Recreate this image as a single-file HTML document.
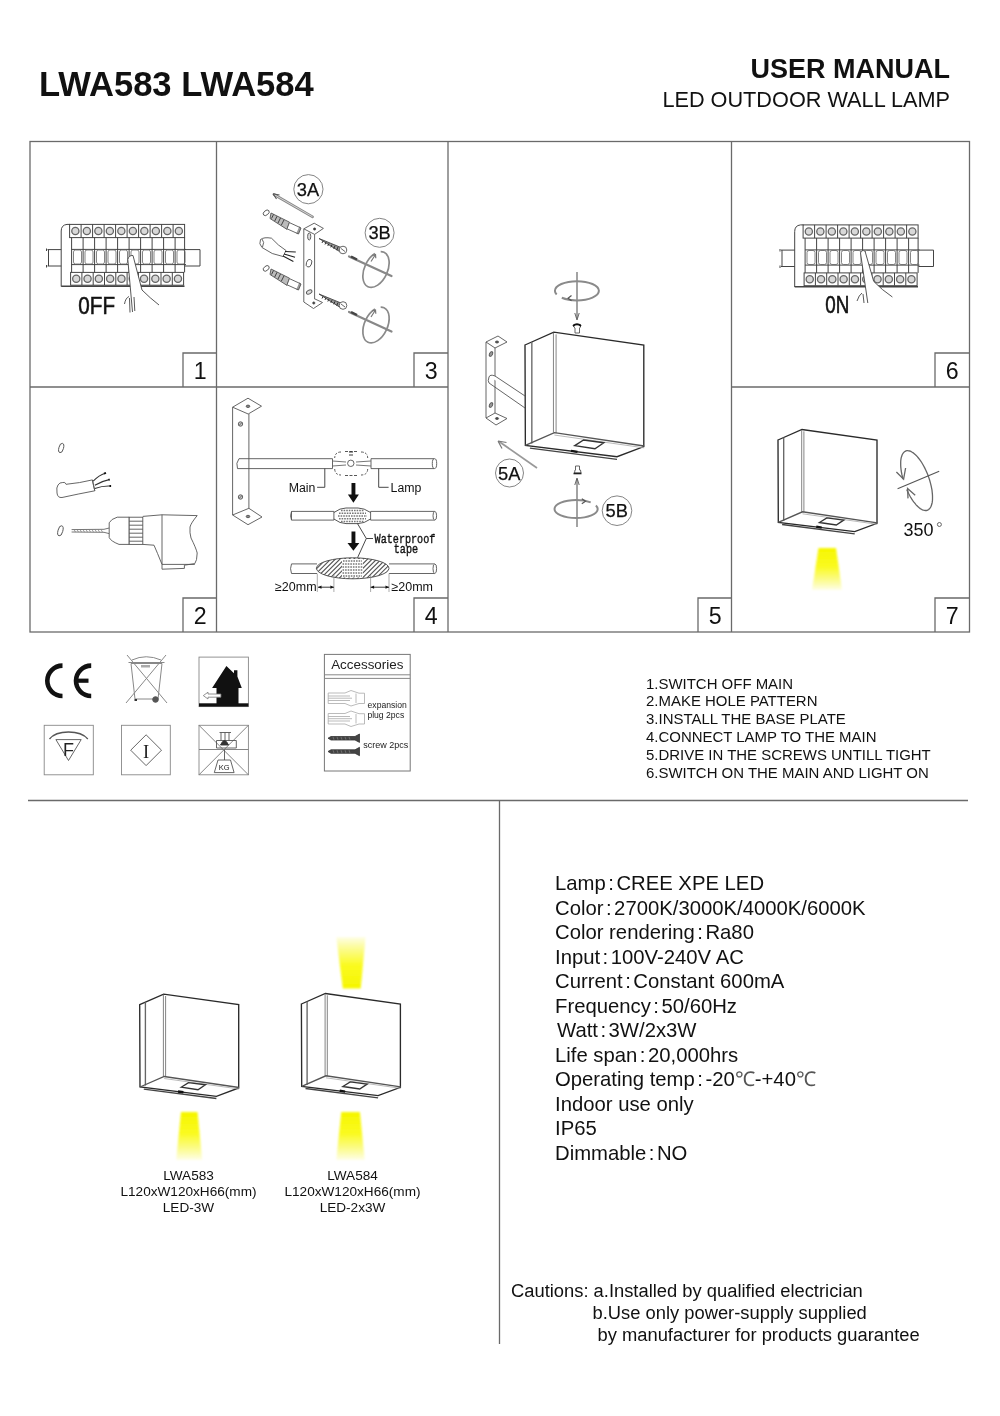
<!DOCTYPE html>
<html><head><meta charset="utf-8">
<style>
html,body{margin:0;padding:0;background:#fff;}
#wrap{position:absolute;left:0;top:0;width:1000px;height:1416px;will-change:transform;}
body{width:1000px;height:1416px;position:relative;overflow:hidden;font-family:"Liberation Sans",sans-serif;color:#111;}
.t{position:absolute;white-space:pre;line-height:1;}
svg{position:absolute;left:0;top:0;}
.num{width:34.5px;height:34px;text-align:center;font-size:23.2px;line-height:36px;}
#specs i{font-style:normal;margin:0 2.5px 0 2.5px;}
.dc{color:#555;}
.lbl{position:absolute;top:1168px;width:161px;text-align:center;font-size:13.6px;line-height:16px;white-space:pre;}
</style></head><body><div id="wrap">
<svg width="1000" height="1416" viewBox="0 0 1000 1416">
<g id="grid" stroke="#6a6a6a" stroke-width="1.3" fill="none">
  <rect x="30" y="141.5" width="939.5" height="490.5"/>
  <line x1="216.5" y1="141.5" x2="216.5" y2="632"/>
  <line x1="448" y1="141.5" x2="448" y2="632"/>
  <line x1="731.5" y1="141.5" x2="731.5" y2="632"/>
  <line x1="30" y1="387" x2="448" y2="387"/>
  <line x1="731.5" y1="387" x2="969.5" y2="387"/>
  <path d="M183,387V353H216.5 M414,387V353H448 M935,387V353H969.5 M183,632V598H216.5 M414,632V598H448 M698,632V598H731.5 M935,632V598H969.5"/>
  <line x1="28" y1="800.5" x2="968" y2="800.5"/>
  <line x1="499.5" y1="800.5" x2="499.5" y2="1344"/>
</g>

<g id="brk" fill="none" stroke="#444" stroke-width="1">
  <path d="M47.5,249.6H61.2 M47.5,266H61.2 M48.5,249.6V266 M46.5,248.5V251 M46.5,265V267.5"/>
  <path d="M185,249.6H200 M185,266H200 M200,249.6V266"/>
  <path d="M61.2,286.5V231Q61.2,225 67,224.4H70" />
  <path d="M61.2,286.3H184.5" stroke="#444" stroke-width="1.6"/>
  <rect x="69.6" y="224.4" width="115" height="13.2"/>
  <line x1="81.1" y1="224.4" x2="81.1" y2="237.6"/><line x1="92.6" y1="224.4" x2="92.6" y2="237.6"/><line x1="104.1" y1="224.4" x2="104.1" y2="237.6"/><line x1="115.6" y1="224.4" x2="115.6" y2="237.6"/><line x1="127.1" y1="224.4" x2="127.1" y2="237.6"/><line x1="138.6" y1="224.4" x2="138.6" y2="237.6"/><line x1="150.1" y1="224.4" x2="150.1" y2="237.6"/><line x1="161.6" y1="224.4" x2="161.6" y2="237.6"/><line x1="173.1" y1="224.4" x2="173.1" y2="237.6"/>
  <g fill="#d8d8d8" stroke="#666" stroke-width="1.3"><circle cx="75.35" cy="231" r="3.6"/><circle cx="86.85" cy="231" r="3.6"/><circle cx="98.35" cy="231" r="3.6"/><circle cx="109.85" cy="231" r="3.6"/><circle cx="121.35" cy="231" r="3.6"/><circle cx="132.85" cy="231" r="3.6"/><circle cx="144.35" cy="231" r="3.6"/><circle cx="155.85" cy="231" r="3.6"/><circle cx="167.35" cy="231" r="3.6"/><circle cx="178.85" cy="231" r="3.6"/></g>
  <rect x="70.6" y="272.4" width="113" height="12.8"/>
  <line x1="81.9" y1="272.4" x2="81.9" y2="285"/><line x1="93.2" y1="272.4" x2="93.2" y2="285"/><line x1="104.5" y1="272.4" x2="104.5" y2="285"/><line x1="115.8" y1="272.4" x2="115.8" y2="285"/><line x1="127.1" y1="272.4" x2="127.1" y2="285"/><line x1="138.4" y1="272.4" x2="138.4" y2="285"/><line x1="149.7" y1="272.4" x2="149.7" y2="285"/><line x1="161.0" y1="272.4" x2="161.0" y2="285"/><line x1="172.3" y1="272.4" x2="172.3" y2="285"/>
  <g fill="#d8d8d8" stroke="#666" stroke-width="1.3"><circle cx="76.25" cy="278.8" r="3.6"/><circle cx="87.55" cy="278.8" r="3.6"/><circle cx="98.85" cy="278.8" r="3.6"/><circle cx="110.15" cy="278.8" r="3.6"/><circle cx="121.45" cy="278.8" r="3.6"/><circle cx="132.75" cy="278.8" r="3.6"/><circle cx="144.05" cy="278.8" r="3.6"/><circle cx="155.35" cy="278.8" r="3.6"/><circle cx="166.65" cy="278.8" r="3.6"/><circle cx="177.95" cy="278.8" r="3.6"/></g>
  <line x1="71.6" y1="237.6" x2="71.6" y2="272.4"/><line x1="83.1" y1="237.6" x2="83.1" y2="272.4"/><line x1="94.6" y1="237.6" x2="94.6" y2="272.4"/><line x1="106.1" y1="237.6" x2="106.1" y2="272.4"/><line x1="117.6" y1="237.6" x2="117.6" y2="272.4"/><line x1="129.1" y1="237.6" x2="129.1" y2="272.4"/><line x1="140.6" y1="237.6" x2="140.6" y2="272.4"/><line x1="152.1" y1="237.6" x2="152.1" y2="272.4"/><line x1="163.6" y1="237.6" x2="163.6" y2="272.4"/><line x1="175.1" y1="237.6" x2="175.1" y2="272.4"/><line x1="184.6" y1="237.6" x2="184.6" y2="272.4"/>
  <path d="M71.6,249.4H186 M71.6,264.6H186"/>
  <g stroke="#666" stroke-width="0.8"><rect x="73.5" y="250" width="8" height="14" rx="2"/><rect x="85.0" y="250" width="8" height="14" rx="2"/><rect x="96.5" y="250" width="8" height="14" rx="2"/><rect x="108.0" y="250" width="8" height="14" rx="2"/><rect x="119.5" y="250" width="8" height="14" rx="2"/><rect x="131.0" y="250" width="8" height="14" rx="2"/><rect x="142.5" y="250" width="8" height="14" rx="2"/><rect x="154.0" y="250" width="8" height="14" rx="2"/><rect x="165.5" y="250" width="8" height="14" rx="2"/><rect x="177.0" y="250" width="8" height="14" rx="2"/></g>
</g>
<g stroke="#444" stroke-width="0.9">
  <path d="M127.8,259.5 Q129,255 133,255.5 L142,290 Q150,298 159,305 L160,314 L132.5,314 Z" fill="#fff" stroke="none"/>
  <path d="M127.8,259.5 L132.5,312 M127.8,259.5 Q129,255 133,255.5 L142,290 Q150,298 159,305" fill="none"/>
  <path d="M124.5,304 Q125.5,298 129,296.5 M129.5,298 L130,312.5 M134,297 L134.8,311" fill="none"/>
</g>
<text x="78.3" y="313.7" font-family="Liberation Sans" font-size="23.5" stroke="#111" stroke-width="0.55" transform="translate(78.3,0) scale(0.88,1) translate(-78.3,0)" fill="#111">0FF</text>

<use href="#brk" transform="translate(733.5,0.5)"/>
<g stroke="#444" stroke-width="0.9">
  <path d="M860.5,253 Q861.5,249.5 865,251 L873.7,281.4 Q882,290 892.4,297 L893,305 L867.8,305 Z" fill="#fff" stroke="none"/>
  <path d="M860.5,253 L867.8,303 M860.5,253 Q861.5,249.5 865,251 L873.7,281.4 Q882,290 892.4,297" fill="none"/>
  <path d="M857,301 Q859,295 862,293 M863,294 L864,303" fill="none"/>
</g>
<text x="825.3" y="313.2" font-family="Liberation Sans" font-size="23.5" stroke="#111" stroke-width="0.55" transform="translate(825.3,0) scale(0.8,1) translate(-825.3,0)" fill="#111">0N</text>


<g id="p3" fill="none" stroke="#555" stroke-width="0.9">
  <circle cx="308.4" cy="189.2" r="14.6" stroke="#777"/>
  <circle cx="379.6" cy="232.8" r="14.5" stroke="#777"/>
  <!-- drill bit / pin -->
  <path d="M274,194.5 L312.6,216.8" stroke="#888" stroke-width="2.6" stroke-linecap="round"/>
  <path d="M274,194.5 L312.6,216.8" stroke="#ddd" stroke-width="0.9"/>
  <path d="M273,193.8 L279.5,195 M273,193.8 L276.5,199" stroke="#555" stroke-width="1.1"/>
  <!-- holes -->
  <ellipse cx="266.2" cy="212.8" rx="3.4" ry="2.2" transform="rotate(-40 266.2 212.8)"/>
  <ellipse cx="266.2" cy="268.4" rx="3.4" ry="2.2" transform="rotate(-40 266.2 268.4)"/>
  <!-- plugs -->
  <g id="plug">
    <path d="M271,213 L289.5,222.2 L287,229.4 L270,218.5 Z" fill="#bbb" stroke="#555"/>
    <path d="M273.5,214.5 l-2,4 M277,216.3 l-2.3,4.7 M280.5,218 l-2.5,5 M284,219.8 l-2.7,5.4" stroke="#333"/>
    <path d="M289.4,222.6 L300,227.5 L297.5,233.5 L287,228.8 Z" fill="#fff"/>
    <path d="M299,227 L301,228 L298.5,234 L296.5,233.2" fill="#999"/>
  </g>
  <use href="#plug" transform="translate(0,56)"/>
  <!-- cable -->
  <path d="M260.5,239.5 Q264,236.8 271.5,238.2 Q278,245.5 286,250.5 L283,256.5 Q272,255 262,247.5 Q258.5,244 260.5,239.5 Z" fill="#fff"/>
  <path d="M262,239 Q265,242 262.5,247" />
  <path d="M285,251.5 L295.8,252 M284,254 L295,257.2 M283,256 L293.4,261.6" stroke="#222" stroke-width="1.1"/>
  <!-- bracket -->
  <path d="M303.8,228.8 L314.2,223.2 L323.4,228.4 L314.6,234.4 Z" fill="#fff"/>
  <circle cx="314.6" cy="229" r="1.1" fill="#222"/>
  <path d="M303.8,228.8 V302 M314.6,234.4 V298.5 M303.8,302 L313.5,308.5 L322.5,302.5 L314,298.5"/>
  <circle cx="313.8" cy="303" r="1.1" fill="#222"/>
  <ellipse cx="309.2" cy="236.5" rx="1.6" ry="3.6" fill="#ddd"/>
  <ellipse cx="309" cy="263.2" rx="2.6" ry="4" transform="rotate(20 309 263.2)"/>
  <ellipse cx="309.2" cy="292" rx="3" ry="1.8" transform="rotate(-30 309.2 292)" fill="#ddd"/>
  <!-- screws -->
  <g id="scr">
    <path d="M319,238.5 L341,247.5 L339.5,251.5 Z" fill="#999" stroke="#444"/>
    <path d="M323,241 l-1,2 M326,242.2 l-1,2.3 M329,243.4 l-1.2,2.6 M332,244.6 l-1.2,2.8 M335,245.8 l-1.3,3 M338,247 l-1.3,3.2" stroke="#222"/>
    <circle cx="343" cy="250" r="3.8" fill="#fff"/>
    <path d="M341,248.5 L345,251.5" />
  </g>
  <use href="#scr" transform="translate(0,55.5)"/>
  <!-- screwdrivers -->
  <g id="sd">
    <path d="M349,256.5 L391.5,276" stroke="#888" stroke-width="2.2" stroke-linecap="round"/>
    <path d="M351,256.5 L357,259.5" stroke="#444" stroke-width="2.4"/>
    <ellipse cx="376" cy="269.5" rx="11.5" ry="19" transform="rotate(25 376 269.5)" stroke="#8a8a8a" stroke-width="1.7" stroke-dasharray="63 6 28.3 0"/>
    <path d="M371,261.5 L375.5,254.5 M372,255.5 L375.5,254.5 L375.8,258.3" stroke="#777" stroke-width="1.2"/>
  </g>
  <use href="#sd" transform="translate(0,55.5)"/>
</g>
<text x="308" y="195.9" text-anchor="middle" font-family="Liberation Sans" font-size="18.3" fill="#111" stroke="#111" stroke-width="0.25">3A</text>
<text x="379.6" y="239.3" text-anchor="middle" font-family="Liberation Sans" font-size="18.3" fill="#111" stroke="#111" stroke-width="0.25">3B</text>


<g id="p2" fill="none" stroke="#555" stroke-width="0.9">
  <ellipse cx="61.2" cy="448" rx="2.3" ry="4.8" transform="rotate(15 61.2 448)"/>
  <path d="M62.8,482.5 Q65,481.5 66,484.3 Q80,483 92.4,479.9 L94.8,490.8 Q78,494 62,497.5 Q57.5,498 57,493 Q56.2,487 58,485 Q59.5,482.3 62.8,482.5 Z" fill="#fff"/>
  <path d="M92.4,480 Q93.5,486 94.8,490.8" />
  <path d="M93.2,481.2 Q99,475 105.2,473.2 M94.8,485.2 Q102,481 109.2,479.6 M94.8,488.4 Q103,485.5 110.8,486" stroke="#333" stroke-width="1.1"/>
  <path d="M104,473.6 l2,-0.8 M108.5,479.8 l1.2,-0.5 M109.5,486 l1.6,0" stroke="#111" stroke-width="1.8"/>
  <ellipse cx="60.4" cy="530.8" rx="2.4" ry="5.2" transform="rotate(15 60.4 530.8)"/>
  <path d="M71.6,529.6 L104,529.3 L109.2,528 M71.6,532 L104,532.3 L109.2,533.6" stroke="#666"/>
  <path d="M74,529.5 l1.5,2.6 M77,529.5 l1.5,2.6 M80,529.5 l1.5,2.6 M83,529.5 l1.5,2.6 M86,529.5 l1.5,2.6 M89,529.5 l1.5,2.6 M92,529.5 l1.5,2.6 M95,529.5 l1.5,2.6 M98,529.5 l1.5,2.6 M101,529.5 l1.5,2.6" stroke="#777" stroke-width="0.7"/>
  <path d="M109.2,522.8 Q111,519 117.2,517.2 L129.2,517.2 V544.4 L119,544.4 Q110.5,541 109.2,537.5 Z" fill="#fff"/>
  <rect x="129.2" y="517.2" width="13.6" height="27.2" fill="#fff"/>
  <path d="M129.2,521.2 H142.8 M129.2,525.2 H142.8 M129.2,529.2 H142.8 M129.2,533.2 H142.8 M129.2,537.2 H142.8 M129.2,541.2 H142.8"/>
  <path d="M142.8,516.4 L162,514.8 L197.2,515.6 Q191,523 190,527 Q189.5,533 191,538 Q196,548 197.2,553 Q197,561 194.8,563.6 L184.4,565.2 V568.4 L162,569.2 L162,564.4 Q157,552 154,545.2 L142.8,544.4"/>
  <path d="M162,514.8 V564.4 M162,564.4 H194.8"/>
</g>

<g id="p4" fill="none" stroke="#555" stroke-width="0.9">
  <!-- bracket -->
  <path d="M232.6,407.2 L248,398.2 L261.5,406.2 L248.2,414 Z" fill="#fff"/>
  <ellipse cx="248" cy="406.3" rx="1.8" ry="1.2" fill="#888"/>
  <path d="M232.6,407.2 V515 L248,524.7 L262,517 L248.9,508.3 V414 M232.6,515 L248.9,508.3"/>
  <ellipse cx="248" cy="516.5" rx="1.8" ry="1.2" fill="#888"/>
  <circle cx="240.5" cy="424" r="2.2" fill="#ccc"/><path d="M239,425.5 l3,-3" />
  <circle cx="240.5" cy="497" r="2.2" fill="#ccc"/><path d="M239,498.5 l3,-3" />
  <!-- top cables -->
  <path d="M239,458.7 H332.5 M239,468.6 H332.5 M332.5,458.7 V468.6" fill="#fff"/>
  <path d="M239,458.7 Q235.5,463 237.5,468.6 H239" />
  <path d="M371,458.7 H434 M371,468.6 H434 M371,458.7 V468.6"/>
  <ellipse cx="434.5" cy="463.6" rx="2.2" ry="4.95"/>
  <!-- connector (dashed) -->
  <path d="M341,452 Q335,452 334.7,458 M334.7,469 Q335,475 341,475 M361,452 Q367.5,452 367.7,458 M367.7,469 Q367.5,475 361,475" stroke="#444" stroke-dasharray="2.5 1.5"/>
  <path d="M345,451.5 H357 M345,475.5 H357" stroke="#444" stroke-dasharray="3 1.5"/>
  <path d="M332.5,461 L346,462 M332.5,466 L346,465 M356,462 L371,461 M356,465 L371,466" stroke="#666"/>
  <circle cx="350.8" cy="463.3" r="3.2"/>
  <path d="M349,452 h4 M349,455 h4" stroke="#222"/>
  <!-- leaders -->
  <path d="M324.8,468.6 V487.3 H317.1 M378.7,468.6 V487.3 H388.6" stroke="#333"/>
  <!-- arrows -->
  <path d="M351.5,483 H355.4 V494.5 H358.9 L353.4,502.7 L347.9,494.5 H351.5 Z" fill="#111" stroke="none"/>
  <path d="M351.5,531.5 H355.4 V543 H359.3 L353.4,550.8 L347.5,543 H351.5 Z" fill="#111" stroke="none"/>
  <!-- middle cables -->
  <path d="M291.5,511.4 H333.9 V520.1 H291.5 Z M370.6,511.4 H434.5 M370.6,520.1 H434.5 M370.6,511.4 V520.1"/>
  <path d="M291.5,511.4 Q289.6,515.8 291.5,520.1" />
  <ellipse cx="434.8" cy="515.8" rx="1.8" ry="4.35"/>
  <path d="M333.9,512.5 Q340,508 346,508 H358 Q364,508 370.6,512.5 M333.9,519 Q340,523.6 346,523.6 H358 Q364,523.6 370.6,519" stroke="#444"/>
  <path d="M341,510.5 H364 M339,513.3 H366 M338,516 H367 M339,518.7 H366 M341,521.5 H364" stroke="#777" stroke-width="1.4" stroke-dasharray="1.6 1"/>
  <!-- waterproof leader -->
  <path d="M357.5,523.6 L366.3,538.5 L357.5,557.8 M366.3,538.5 H373" stroke="#333"/>
  <!-- bottom cables -->
  <path d="M291.5,563.9 H317 M291.5,573.5 H317 M389,563.9 H434.5 M389,573.5 H434.5"/>
  <path d="M291.5,563.9 Q289.6,568.7 291.5,573.5"/>
  <ellipse cx="434.8" cy="568.7" rx="1.8" ry="4.8"/>
  <defs>
    <pattern id="hatch" width="4.5" height="4.5" patternUnits="userSpaceOnUse" patternTransform="rotate(45)">
      <rect width="4.5" height="4.5" fill="#fff"/><line x1="0" y1="0" x2="0" y2="4.5" stroke="#555" stroke-width="1.1"/>
    </pattern>
  </defs>
  <clipPath id="ellclip"><ellipse cx="352.7" cy="568.3" rx="36.3" ry="10.5"/></clipPath>
  <ellipse cx="352.7" cy="568.3" rx="36.3" ry="10.5" fill="#fff" stroke="none"/>
  <path d="M296.0,580 L319.0,557 M300.6,580 L323.6,557 M305.2,580 L328.2,557 M309.8,580 L332.8,557 M314.4,580 L337.4,557 M319.0,580 L342.0,557 M323.6,580 L346.6,557 M328.2,580 L351.2,557 M332.8,580 L355.8,557 M337.4,580 L360.4,557 M342.0,580 L365.0,557 M346.6,580 L369.6,557 M351.2,580 L374.2,557 M355.8,580 L378.8,557 M360.4,580 L383.4,557 M365.0,580 L388.0,557 M369.6,580 L392.6,557 M374.2,580 L397.2,557 M378.8,580 L401.8,557 M383.4,580 L406.4,557 M388.0,580 L411.0,557 M392.6,580 L415.6,557 " clip-path="url(#ellclip)" stroke="#555" stroke-width="1.1"/>
  <ellipse cx="352.7" cy="568.3" rx="36.3" ry="10.5" stroke="#444"/>
  <rect x="342" y="559" width="21" height="18.5" fill="#fff" stroke="none"/><path d="M343,561 H362 M342.5,564 H363 M342.5,567 H363 M342.5,570 H363 M342.5,573 H363 M343,576 H362" stroke="#777" stroke-width="1.6" stroke-dasharray="1.6 1"/>
  <!-- dimension -->
  <path d="M317.3,573.5 V592 M333.9,575 V592 M370.6,575 V592 M389,573.5 V592" stroke="#888" stroke-width="0.7"/>
  <path d="M318,587.2 H333.9 M370.6,587.2 H389" stroke="#222"/>
  <path d="M318,587.2 l3.5,-1.6 v3.2 Z M333.9,587.2 l-3.5,-1.6 v3.2 Z M370.6,587.2 l3.5,-1.6 v3.2 Z M389,587.2 l-3.5,-1.6 v3.2 Z" fill="#111" stroke="none"/>
</g>
<g font-family="Liberation Sans" fill="#111">
  <text x="288.7" y="491.8" font-size="12.3">Main</text>
  <text x="390.6" y="491.8" font-size="12.3">Lamp</text>
  <text x="275" y="591" font-size="12.5">&#8805;20mm</text>
  <text x="391.4" y="591" font-size="12.5">&#8805;20mm</text>
</g>
<g font-family="Liberation Mono" fill="#111" stroke="#111" stroke-width="0.4" font-size="13">
  <text x="374.6" y="543.2" transform="translate(374.6,0) scale(0.78,1) translate(-374.6,0)">Waterproof</text>
  <text x="393.8" y="553.4" transform="translate(393.8,0) scale(0.78,1) translate(-393.8,0)">tape</text>
</g>

<defs>
  <filter id="soft" x="-30%" y="-30%" width="160%" height="160%"><feGaussianBlur stdDeviation="0.9"/></filter>
  <linearGradient id="beamDown" x1="0" y1="0" x2="0" y2="1">
    <stop offset="0" stop-color="#f6f600"/><stop offset="0.45" stop-color="#fafa20"/><stop offset="0.8" stop-color="#fcfc9a"/><stop offset="1" stop-color="#fefee8"/>
  </linearGradient>
  <linearGradient id="beamUp" x1="0" y1="1" x2="0" y2="0">
    <stop offset="0" stop-color="#f6f600"/><stop offset="0.45" stop-color="#fafa20"/><stop offset="0.8" stop-color="#fcfc9a"/><stop offset="1" stop-color="#fefee8"/>
  </linearGradient>
  <g id="lamp" fill="none" stroke="#2a2a2a" stroke-width="1.35" vector-effect="non-scaling-stroke">
    <path vector-effect="non-scaling-stroke" d="M139.7,1004.7 L163.7,994.2 L238.7,1004.7 V1088 L216.4,1096.3 L140,1087 Z" fill="#fff"/>
    <path vector-effect="non-scaling-stroke" d="M145.4,1002.3 V1085.5" stroke="#666"/>
    <path vector-effect="non-scaling-stroke" d="M163.4,994.6 V1076.5 M165.6,996 V1077" stroke="#777" stroke-width="0.9"/>
    <path vector-effect="non-scaling-stroke" d="M140,1087 L164.2,1076.5 L239,1087.5" stroke="#555"/>
    <path vector-effect="non-scaling-stroke" d="M164.2,1078.5 L239,1089" stroke="#aaa" stroke-width="0.8"/>
    <path vector-effect="non-scaling-stroke" d="M143.8,1089.2 L216.4,1098.5" stroke="#444"/>
    <path vector-effect="non-scaling-stroke" d="M181.2,1087.2 L188.5,1082.6 L205.4,1084.8 L198,1089.7 Z" stroke="#333"/>
    <path vector-effect="non-scaling-stroke" d="M178,1091.5 L183.4,1092.3" stroke="#111" stroke-width="2.4"/>
  </g>
</defs>

<use href="#lamp"/>
<path d="M181,1112 H197.5 L202.2,1160 H176.2 Z" fill="url(#beamDown)" filter="url(#soft)"/>
<use href="#lamp" transform="translate(161.7,-0.7)"/>
<path d="M341.3,1112 H359.9 L364.7,1160 H336.3 Z" fill="url(#beamDown)" filter="url(#soft)"/>
<path d="M342.8,988.5 H360.7 L365.6,937 H336.3 Z" fill="url(#beamUp)" filter="url(#soft)"/>
<use href="#lamp" transform="translate(638.3,-564.7)"/>
<path d="M818.5,548 H836 L842,590 H812 Z" fill="url(#beamDown)" filter="url(#soft)"/>
<use href="#lamp" transform="translate(525,345) scale(1.2,1.22) translate(-139.7,-1004.7)"/>

<g id="p5" fill="none" stroke="#555" stroke-width="0.9">
  <!-- bracket -->
  <path d="M486,342 L498,336 L507,342 L495,348 Z" fill="#fff"/>
  <ellipse cx="497" cy="342" rx="1.6" ry="1" fill="#444"/>
  <path d="M486,342 V418 L496,425 L507,418.5 L495,413 V348 M486,418 L495,413"/>
  <ellipse cx="497" cy="418.5" rx="1.6" ry="1" fill="#444"/>
  <ellipse cx="491" cy="354" rx="1.5" ry="2.5" transform="rotate(25 491 354)" fill="#999"/>
  <ellipse cx="491" cy="405" rx="1.5" ry="2.5" transform="rotate(25 491 405)" fill="#999"/>
  <path d="M489,377 Q490,374 495,376 L525,396 M489,383 L525,408 M489,377 Q487.5,381 489,383" fill="#fff"/>
  <!-- top screw and rotation -->
  <path d="M577,272 V318" stroke="#999" stroke-width="1.8"/>
  <path d="M574.8,313 L577,320 L579.2,313" stroke="#555"/>
  <ellipse cx="576.9" cy="290.8" rx="22" ry="9.6" stroke="#8a8a8a" stroke-width="2" stroke-dasharray="41 6 56.1 0"/>
  <path d="M571.5,295.6 L568,298.2 L571.5,300.8" stroke="#555" stroke-width="1.2"/>
  <path d="M573.8,324.5 H580.5 V327 L579.5,328 V333 H575 V328 L573.8,327 Z" fill="#fff"/><path d="M573,326 Q577,322.5 581,326" stroke="#111" stroke-width="1.8"/>
  <!-- bottom screw -->
  <path d="M574.5,473 H581 L580.5,470 H579.5 V466 H575.5 V470 H575 Z" fill="#fff"/><path d="M573.5,473.5 H581.5" stroke="#222" stroke-width="1.6"/>
  <path d="M577,479 V527" stroke="#999" stroke-width="1.8"/>
  <path d="M574.8,485 L577,478 L579.2,485" stroke="#555"/>
  <ellipse cx="576.1" cy="509" rx="21.6" ry="9" stroke="#8a8a8a" stroke-width="2" stroke-dasharray="89.5 6 4.75 0"/>
  <path d="M581.8,498.8 L585.5,501.3 L581.8,503.8" stroke="#555" stroke-width="1.2"/>
  <!-- 5A arrow -->
  <path d="M499,441.5 L537,468" stroke="#999" stroke-width="1.8"/>
  <path d="M498,441 L506.5,442.5 M498,441 L502,448.5" stroke="#777" stroke-width="1.2"/>
  <circle cx="509.5" cy="473" r="14" stroke="#777"/>
  <circle cx="617" cy="510.7" r="14.8" stroke="#777"/>
</g>
<g font-family="Liberation Sans" fill="#111" font-size="18.3" text-anchor="middle" stroke="#111" stroke-width="0.25">
  <text x="509.3" y="479.6">5A</text>
  <text x="616.7" y="517">5B</text>
</g>

<g fill="none" stroke="#666" stroke-width="1.3">
  <path d="M903.0,479.1 L902.5,477.1 L902.0,475.0 L901.6,473.0 L901.2,471.0 L901.0,469.0 L900.8,467.1 L900.7,465.3 L900.7,463.5 L900.7,461.9 L900.8,460.3 L901.0,458.8 L901.3,457.4 L901.7,456.2 L902.1,455.0 L902.6,454.0 L903.2,453.1 L903.8,452.4 L904.5,451.7 L905.2,451.3 L906.0,450.9 L906.9,450.7 L907.8,450.7 L908.7,450.8 L909.7,451.0 L910.8,451.4 L911.8,452.0 L912.9,452.6 L914.0,453.4 L915.1,454.4 L916.2,455.5 L917.3,456.6 L918.4,458.0 L919.5,459.4 L920.6,460.9 L921.7,462.5 L922.7,464.2 L923.7,466.0 L924.7,467.9 L925.6,469.8 L926.5,471.7 L927.4,473.8 L928.2,475.8 L928.9,477.9 L929.6,480.0 L930.2,482.1 L930.7,484.1 L931.2,486.2 L931.6,488.2 L932.0,490.2 L932.2,492.2 L932.4,494.1 L932.5,495.9 L932.5,497.7 L932.5,499.3 L932.4,500.9 L932.2,502.4 L931.9,503.8 L931.5,505.0 L931.1,506.2 L930.6,507.2 L930.0,508.1 L929.4,508.8 L928.7,509.5 L928.0,509.9 L927.2,510.3 L926.3,510.5 L925.4,510.5 L924.5,510.4 L923.5,510.2 L922.4,509.8 L921.4,509.2 L920.3,508.6 L919.2,507.8 L918.1,506.8 L917.0,505.7 L915.9,504.6 L914.8,503.2 L913.7,501.8 L912.6,500.3 L911.5,498.7 L910.5,497.0 L909.5,495.2 L908.5,493.3 L907.6,491.4 L906.7,489.5"/>
  <path d="M897.6,488.8 L939.2,471.2" stroke="#555" stroke-width="1.1"/>
  <path d="M896.4,472 L903.6,479.2 L905.6,468" stroke-width="1.3"/>
  <path d="M915.2,495.2 L907.6,488.4 L908,498.4" stroke-width="1.3"/>
</g>
<text x="903.5" y="535.5" font-family="Liberation Sans" font-size="18" fill="#111">350</text>
<circle cx="939.4" cy="524.5" r="2" fill="none" stroke="#444" stroke-width="0.8"/>


<g id="icons">
  <!-- CE -->
  <g fill="none" stroke="#111" stroke-width="4.6">
    <path d="M62.5,665.6 A15.2,15.2 0 0 0 62.5,696"/>
    <path d="M91.2,665.6 A15.2,15.2 0 0 0 91.2,696"/>
  </g>
  <rect x="76" y="678.6" width="12.5" height="4.2" fill="#111"/>
  <!-- WEEE -->
  <g fill="none" stroke="#888" stroke-width="1">
    <path d="M131,663.5 L135,699 H158 L162,663.5 Z"/>
    <path d="M128.5,662.5 H164.5 M132,660 Q146,653.5 161,660"/>
    <path d="M127,655 L167,703 M166,655 L126,703"/>
    <rect x="141" y="665" width="9" height="2.5" fill="#aaa" stroke="none"/>
    <circle cx="155.5" cy="699.5" r="2.8" fill="#555" stroke="#555"/>
    <path d="M134.5,700 h2.5" stroke="#333" stroke-width="2"/>
  </g>
  <!-- house -->
  <rect x="199" y="657.1" width="49.4" height="49.5" fill="none" stroke="#888" stroke-width="0.9"/>
  <rect x="199" y="703.3" width="49.4" height="3.3" fill="#111"/>
  <path d="M226.4,665.9 L234,673.2 V670.3 H237.4 V676.5 L241.8,687.9 H238.5 V704 H216.5 V687.9 H212.1 Z" fill="#111"/>
  <path d="M203.3,695.6 L208,692.2 V694 H220.9 V697.2 H208 V699 Z" fill="#fff" stroke="#777" stroke-width="0.8"/>
  <!-- F -->
  <g fill="none" stroke="#888" stroke-width="0.9">
    <rect x="44.2" y="725.3" width="49.1" height="49.5"/>
    <path d="M49.5,739 Q55,732 68.5,732 Q82,732 87.8,739" stroke="#555" stroke-width="1.3"/>
    <path d="M55.9,739.6 H81.2 L68.5,760.5 Z" stroke="#555"/>
    <rect x="121.5" y="725.3" width="48.8" height="49.5"/>
    <path d="M146.1,734.8 L161.5,750.2 L146.1,765.6 L130.7,750.2 Z" stroke="#555"/>
    <rect x="199" y="725.3" width="49.4" height="49.5"/>
    <path d="M199,725.3 L248.4,774.8 M248.4,725.3 L199,774.8 M199,749.5 H248.4" stroke="#777"/>
    <path d="M218,760 H230.5 L234.1,772.6 H214.3 Z" fill="#fff" stroke="#555"/>
    <path d="M216.5,740.5 H236.3 V748 H216.5 Z M221,732.5 V740.5 M225,732.5 V740.5 M229,732.5 V740.5 M219.5,732.5 H231" stroke="#555"/>
    <path d="M220.5,745 Q224.5,736 228.5,745 Z" fill="#333" stroke="#333"/>
    <path d="M224.5,749.5 V760" stroke="#555"/>
  </g>
  <text x="68.6" y="756" font-family="Liberation Sans" font-size="18" text-anchor="middle" fill="#222">F</text>
  <text x="146.1" y="757.8" font-family="Liberation Serif" font-size="18.5" text-anchor="middle" fill="#222">I</text>
  <text x="224.2" y="770.3" font-family="Liberation Sans" font-size="7.5" text-anchor="middle" fill="#222">KG</text>
</g>
<g id="acc" fill="none" stroke="#777" stroke-width="1">
  <rect x="324.4" y="654.4" width="85.8" height="116.6"/>
  <path d="M324.4,674.8 H410.2 M324.4,678.4 H410.2" stroke="#888"/>
  <g id="plugacc" stroke="#aaa" stroke-width="0.8">
    <path d="M328.2,693 H345 L351,690.5 L359,693.2 H364.5 V703.5 H359 L351,706 L345,703.5 H328.2 Z" fill="#fff"/>
    <path d="M328.2,696 H350 M328.2,698.2 H352 M328.2,700.5 H350 M356,693.5 V703"/>
  </g>
  <use href="#plugacc" transform="translate(0,20.5)"/>
  <g id="screwacc">
    <path d="M328,738.2 L331,736.5 H355 L359.5,734 V742.4 L355,740 H331 Z" fill="#444" stroke="#333" stroke-width="0.8"/>
    <path d="M333,736.8 l1,3 M337,736.8 l1,3 M341,736.8 l1,3 M345,736.8 l1,3 M349,736.8 l1,3" stroke="#999" stroke-width="0.5"/>
  </g>
  <use href="#screwacc" transform="translate(0,13.3)"/>
</g>
<g font-family="Liberation Sans" fill="#222">
  <text x="331.2" y="669.3" font-size="13.4">Accessories</text>
  <text x="367.6" y="707.8" font-size="8.6">expansion</text>
  <text x="367.4" y="718" font-size="8.6">plug 2pcs</text>
  <text x="363.2" y="747.9" font-size="9">screw 2pcs</text>
</g>

</svg>

<div class="t" style="left:39px;top:66.5px;font-weight:bold;font-size:34.6px;">LWA583 LWA584</div>
<div class="t" style="right:50px;top:56px;font-weight:bold;font-size:27px;">USER MANUAL</div>
<div class="t" style="right:50px;top:89px;font-size:21.7px;">LED OUTDOOR WALL LAMP</div>


<!-- panel numbers -->
<div class="t num" style="left:183px;top:353px;">1</div>
<div class="t num" style="left:414px;top:353px;">3</div>
<div class="t num" style="left:935px;top:353px;">6</div>
<div class="t num" style="left:183px;top:598px;">2</div>
<div class="t num" style="left:414px;top:598px;">4</div>
<div class="t num" style="left:698px;top:598px;">5</div>
<div class="t num" style="left:935px;top:598px;">7</div>

<div id="steps" style="position:absolute;left:646px;top:674.5px;font-size:15px;line-height:17.9px;white-space:pre;transform:scaleX(0.997);transform-origin:0 0;">1.SWITCH OFF MAIN
2.MAKE HOLE PATTERN
3.INSTALL THE BASE PLATE
4.CONNECT LAMP TO THE MAIN
5.DRIVE IN THE SCREWS UNTILL TIGHT
6.SWITCH ON THE MAIN AND LIGHT ON</div>

<div id="specs" style="position:absolute;left:555px;top:871px;font-size:20.3px;line-height:24.55px;white-space:pre;">Lamp<i>:</i>CREE XPE LED
Color<i>:</i>2700K/3000K/4000K/6000K
Color rendering<i>:</i>Ra80
Input<i>:</i>100V-240V AC
Current<i>:</i>Constant 600mA
Frequency<i>:</i>50/60Hz
<span style="margin-left:2px">Watt</span><i>:</i>3W/2x3W
Life span<i>:</i>20,000hrs
Operating temp<i>:</i>-20<span class="dc">&#8451;</span>-+40<span class="dc">&#8451;</span>
Indoor use only
IP65
Dimmable<i>:</i>NO</div>

<div id="caut" style="position:absolute;left:511px;top:1280px;font-size:18.35px;line-height:22.2px;white-space:pre;">Cautions: a.Installed by qualified electrician
<span style="padding-left:81.5px">b.Use only power-supply supplied</span>
<span style="padding-left:86.5px">by manufacturer for products guarantee</span></div>

<div class="lbl" style="left:108px;">LWA583
L120xW120xH66(mm)
LED-3W</div>
<div class="lbl" style="left:272px;">LWA584
L120xW120xH66(mm)
LED-2x3W</div>

</div></body></html>
